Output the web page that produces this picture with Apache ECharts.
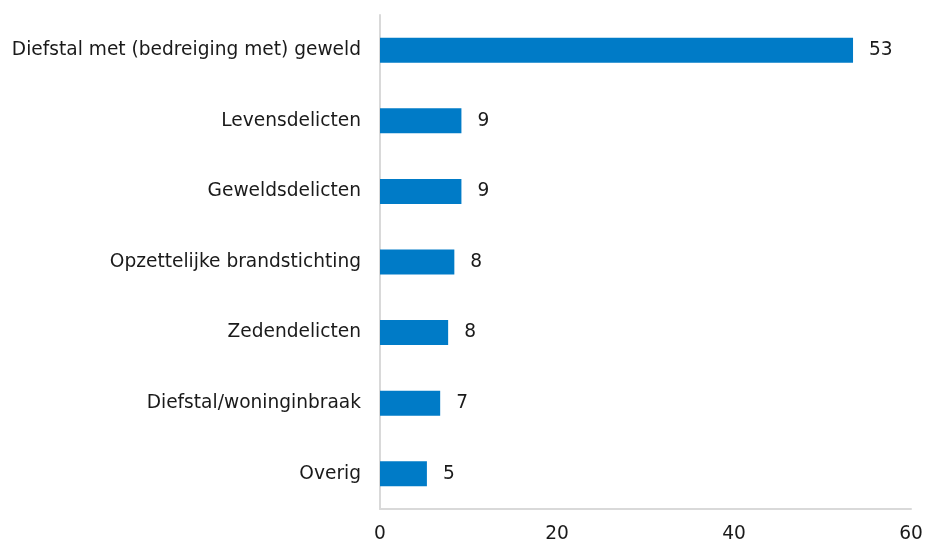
<!DOCTYPE html>
<html><head><meta charset="utf-8">
<script src="https://cdn.jsdelivr.net/npm/echarts@6/dist/echarts.min.js"></script>
<style>html,body{margin:0;padding:0;background:#fff}#c{width:925px;height:542px}</style>
</head><body><div id="c"></div>
<script>
const categories = ["Diefstal met (bedreiging met) geweld","Levensdelicten","Geweldsdelicten","Opzettelijke brandstichting","Zedendelicten","Diefstal/woninginbraak","Overig"];
const values = [53.45, 9.2, 9.2, 8.4, 7.7, 6.8, 5.3];
const xTicks = [0, 20, 40, 60];

const chart = echarts.init(document.getElementById('c'));
const font = "DejaVu Sans, Verdana, sans-serif";
const fs = 18.6;
chart.setOption({
  animation: false,
  grid: {left: 380, right: 14, top: 15, bottom: 33, containLabel: false, outerBoundsMode: 'none'},
  xAxis: {
    type: 'value', min: 0, max: 60, interval: 20,
    axisLine: {show: true, lineStyle: {color: '#d9d9d9', width: 2}},
    axisTick: {show: false},
    splitLine: {show: false},
    axisLabel: {color: '#1a1a1a', fontFamily: font, fontSize: fs, margin: 16,
      formatter: v => xTicks.includes(v) ? String(v) : ''}
  },
  yAxis: {
    type: 'category', data: categories, inverse: true,
    axisLine: {show: true, lineStyle: {color: '#d9d9d9', width: 2}},
    axisTick: {show: false},
    axisLabel: {color: '#1a1a1a', fontFamily: font, fontSize: fs, margin: 19}
  },
  series: [{
    type: 'bar', data: values, barWidth: 25,
    itemStyle: {color: '#007bc7'},
    label: {show: true, position: 'right', distance: 16, color: '#1a1a1a', fontFamily: font, fontSize: fs,
      formatter: p => Math.round(p.value)}
  }]
});
</script></body></html>
